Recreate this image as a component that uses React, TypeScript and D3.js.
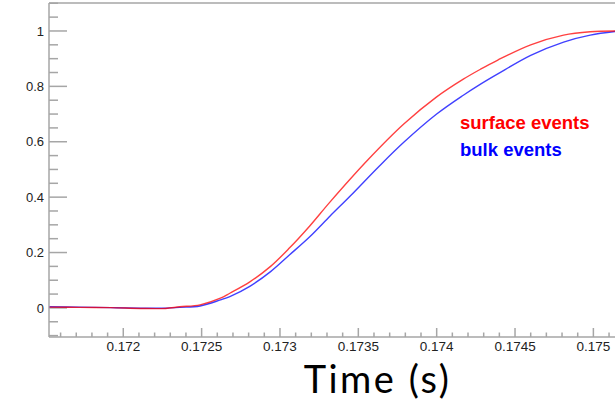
import React, {useEffect, useRef} from 'react'
import * as d3 from 'd3'

// time in seconds
const surfaceTime = [
  0.17153, 0.17172, 0.17192, 0.17211, 0.17227, 0.17236, 0.17249, 0.17262,
  0.17268, 0.17281, 0.17294, 0.17306, 0.17319, 0.17332, 0.17356, 0.17379,
  0.174, 0.17417, 0.17428, 0.17439, 0.1746, 0.17481, 0.17498, 0.17514,
]
const surfaceValue = [
  0.003, 0.002, 0.001, -0.002, -0.002, 0.004, 0.011, 0.035, 0.053, 0.095,
  0.15, 0.216, 0.296, 0.383, 0.534, 0.664, 0.762, 0.826, 0.862, 0.895, 0.95,
  0.985, 0.997, 1.0,
]
const bulkTime = [
  0.17153, 0.17172, 0.17192, 0.17211, 0.17227, 0.17236, 0.17249, 0.17262,
  0.17268, 0.17281, 0.17294, 0.17306, 0.17319, 0.17332, 0.17345, 0.17363,
  0.17379, 0.174, 0.17417, 0.17428, 0.17439, 0.1746, 0.17481, 0.17498,
  0.17514,
]
const bulkValue = [
  0.004, 0.003, 0.001, -0.001, -0.001, 0.002, 0.007, 0.029, 0.041, 0.079,
  0.131, 0.191, 0.257, 0.332, 0.405, 0.51, 0.598, 0.7, 0.768, 0.808, 0.845,
  0.912, 0.96, 0.985, 0.998,
]
const xTickLabels = ['0.172', '0.1725', '0.173', '0.1735', '0.174', '0.1745', '0.175']
const yTickLabels = ['0', '0.2', '0.4', '0.6', '0.8', '1']
const legendLabels = ['surface events', 'bulk events']
const seriesColors = ['#ff0000', '#0000ff']

const App = () => {
  const node = useRef<SVGSVGElement>(null)

  useEffect(() => {
    const width = 615
    const height = 404
    const left = 49
    const top = 3
    const bottom = 337
    const axisColor = '#a6a6a6'
    const labelFont = '"Liberation Sans", Arial, Helvetica, sans-serif'

    const x = d3.scaleLinear().domain([0.171526, 0.175138]).range([left, width])
    const y = d3.scaleLinear().domain([-0.105, 1.101]).range([bottom, top])

    const svg = d3.select(node.current)
    svg.selectAll('*').remove()
    svg.attr('width', width).attr('height', height)

    svg
      .append('defs')
      .append('clipPath')
      .attr('id', 'plotArea')
      .append('rect')
      .attr('x', left)
      .attr('y', top)
      .attr('width', width - left)
      .attr('height', bottom - top)

    // frame
    const frame = svg.append('g').attr('stroke', axisColor).attr('stroke-width', 1.5)
    frame.append('line').attr('x1', left).attr('x2', width).attr('y1', top).attr('y2', top)
    frame.append('line').attr('x1', left).attr('x2', left).attr('y1', top).attr('y2', bottom)
    frame.append('line').attr('x1', left).attr('x2', width).attr('y1', bottom).attr('y2', bottom)

    // y ticks: majors every 0.2, minors every 0.05
    const yMinor = d3.range(-2, 23).map((i) => +(i * 0.05).toFixed(2))
    frame
      .selectAll('line.ytick')
      .data(yMinor)
      .join('line')
      .attr('class', 'ytick')
      .attr('x1', left)
      .attr('x2', (d) => (Math.round(d * 100) % 20 === 0 ? left + 18 : left + 9))
      .attr('y1', (d) => y(d))
      .attr('y2', (d) => y(d))

    // x ticks: majors every 0.0005, minors every 0.0001
    const xMinor = d3.range(1716, 1752).map((i) => i / 10000)
    frame
      .selectAll('line.xtick')
      .data(xMinor)
      .join('line')
      .attr('class', 'xtick')
      .attr('x1', (d) => x(d))
      .attr('x2', (d) => x(d))
      .attr('y1', bottom)
      .attr('y2', (d, i) => ((i + 6) % 5 === 0 ? bottom - 9 : bottom - 4.5))

    svg
      .append('g')
      .attr('font-family', labelFont)
      .attr('font-size', 13.5)
      .attr('fill', '#222')
      .attr('text-anchor', 'middle')
      .selectAll('text')
      .data(xTickLabels)
      .join('text')
      .attr('x', (d) => x(+d))
      .attr('y', 351)
      .text((d) => d)

    svg
      .append('g')
      .attr('font-family', labelFont)
      .attr('font-size', 13)
      .attr('fill', '#222')
      .attr('text-anchor', 'end')
      .selectAll('text')
      .data(yTickLabels)
      .join('text')
      .attr('x', 44)
      .attr('y', (d) => y(+d))
      .attr('dy', '0.36em')
      .text((d) => d)

    // curves
    const line = d3
      .line<[number, number]>()
      .curve(d3.curveCatmullRom.alpha(0.5))
      .x((d) => x(d[0]))
      .y((d) => y(d[1]))

    const series = [
      bulkTime.map((t, i) => [t, bulkValue[i]] as [number, number]),
      surfaceTime.map((t, i) => [t, surfaceValue[i]] as [number, number]),
    ]
    svg
      .append('g')
      .attr('clip-path', 'url(#plotArea)')
      .selectAll('path')
      .data(series)
      .join('path')
      .attr('fill', 'none')
      .attr('stroke', (d, i) => seriesColors[1 - i])
      .attr('stroke-opacity', 0.75)
      .attr('stroke-width', 1.4)
      .attr('d', (d) => line(d))

    // legend
    svg
      .append('g')
      .attr('font-family', labelFont)
      .attr('font-size', 18.5)
      .attr('font-weight', 'bold')
      .selectAll('text')
      .data(legendLabels)
      .join('text')
      .attr('x', 460)
      .attr('y', (d, i) => 129 + i * 27)
      .attr('fill', (d, i) => seriesColors[i])
      .text((d) => d)

    svg
      .append('text')
      .attr('x', 377.5)
      .attr('y', 393)
      .attr('text-anchor', 'middle')
      .attr('font-family', 'Lato, "Open Sans", sans-serif')
      .attr('font-size', 38)
      .attr('letter-spacing', 2.5)
      .attr('fill', '#000')
      .text('Time (s)')
  }, [])

  return (
    <div>
      <svg ref={node} style={{position: 'absolute', left: 0, top: 0}} />
    </div>
  )
}

export default App
